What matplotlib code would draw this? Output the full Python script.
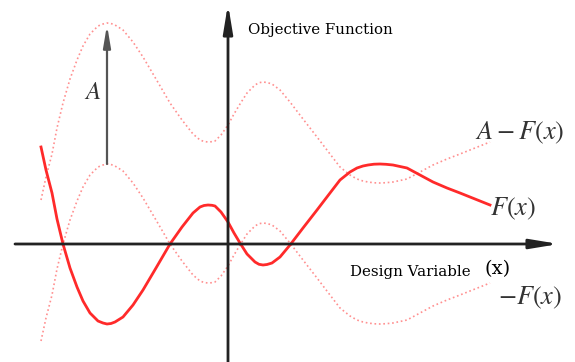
import numpy as np
import matplotlib
matplotlib.use('Agg')
import matplotlib.pyplot as plt

plt.rcParams['mathtext.fontset'] = 'stix'

# F(x) (origin at the crossing of the two axes, y up)
x = [-187, -182, -176, -171, -165, -158, -151, -145, -138, -130, -125, -121, -117, -113, -105,
     -95, -85, -72, -58, -46, -35, -28, -24, -20, -16, -13, -7, 0, 6, 12, 19, 27, 31, 35, 39, 44, 52,
     62, 75, 89, 102, 112, 122, 129, 135, 140, 146, 152, 158, 165, 179, 192, 205, 219, 232, 247, 262]
F = [97, 74, 51, 25, 0, -24, -43, -57, -69, -77, -79, -80, -79.5, -78, -73,
     -61, -46, -24, 0, 17, 31, 37, 38.5, 39, 38.7, 38, 32, 22, 11, 1, -10, -18, -20.3, -21, -20.5, -19, -13,
     -1, 16, 34, 51, 64, 72, 76, 78, 79, 79.8, 80, 79.7, 79, 76, 69, 62, 56, 51, 45, 39]
A = 141

x = np.array(x)
F = np.array(F)

fig = plt.figure(figsize=(5.75, 3.62), dpi=100)
ax = fig.add_axes([0, 0, 1, 1])
ax.set_xlim(-228, 347)
ax.set_ylim(-118, 244)
ax.axis('off')

# axes with arrows
head = '-|>,head_length=1.7,head_width=0.28'
ax.annotate('', xy=(331, 0), xytext=(-213, 0),
            arrowprops=dict(arrowstyle=head, color='#222222', lw=2, shrinkA=0, shrinkB=0))
ax.annotate('', xy=(0, 240), xytext=(0, -118),
            arrowprops=dict(arrowstyle=head, color='#222222', lw=2, shrinkA=0, shrinkB=0))

# curves
ax.plot(x, -F, ls=':', color='#ff9090', lw=1.2)
ax.plot(x, A - F, ls=':', color='#ff9090', lw=1.2)
ax.plot(x, F, color='#ff2a2a', lw=2)

# arrow showing A
i = np.argmin(F)
ax.annotate('', xy=(x[i], A - F[i] - 2), xytext=(x[i], -F[i]),
            arrowprops=dict(arrowstyle='-|>,head_length=1.3,head_width=0.22',
                            color='#555555', lw=1.6, shrinkA=0, shrinkB=0))

ax.text(20, 214, 'Objective Function', family='DejaVu Serif', fontsize=10.8,
        va='center', ha='left')
ax.text(122, -28, 'Design Variable', family='DejaVu Serif', fontsize=10.8,
        va='center', ha='left')
ax.text(257, -25, '(x)', family='DejaVu Serif', fontsize=14, va='center', ha='left')
ax.text(247, 111, r'$A-F(x)$', fontsize=19, va='center', ha='left', color='#333333')
ax.text(262, 35, r'$F(x)$', fontsize=19, va='center', ha='left', color='#333333')
ax.text(270, -54, r'$-F(x)$', fontsize=19, va='center', ha='left', color='#333333')
ax.text(-135, 152, r'$A$', fontsize=18, va='center', ha='center', color='#333333')

fig.savefig('out.png', dpi=100)
